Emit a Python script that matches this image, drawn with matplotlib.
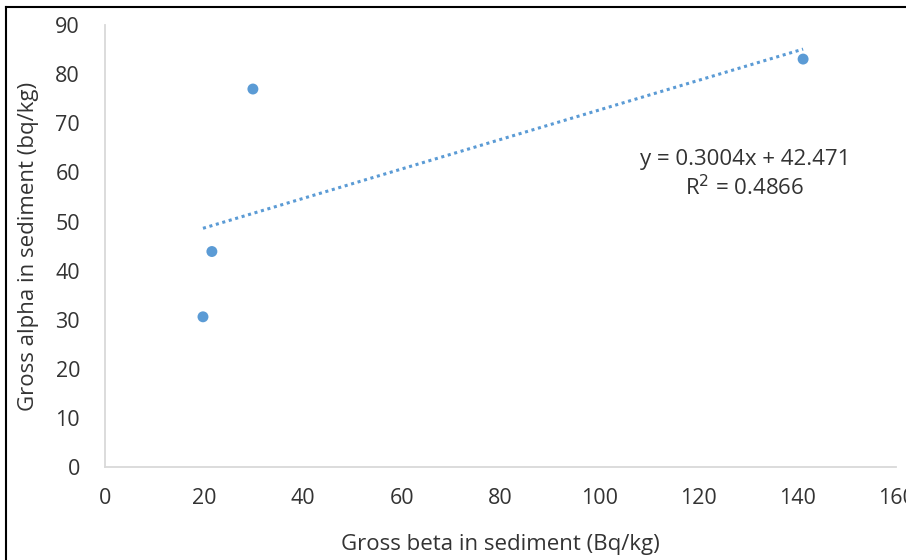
import numpy as np
import matplotlib
matplotlib.use('Agg')
import matplotlib.pyplot as plt
from matplotlib.lines import Line2D

# Data
gross_beta = [19.8, 21.6, 29.9, 141.2]
gross_alpha = [30.6, 43.9, 77.0, 83.1]
x_ticks = [0, 20, 40, 60, 80, 100, 120, 140, 160]
y_ticks = [0, 10, 20, 30, 40, 50, 60, 70, 80, 90]
eq_text = 'y = 0.3004x + 42.471\nR$^2$ = 0.4866'

plt.rcParams['font.family'] = ['Open Sans', 'DejaVu Sans']

blue = '#5b9bd5'
grey = '#d9d9d9'
text_col = '#333333'

fig = plt.figure(figsize=(9.06, 5.6), dpi=100)
ax = fig.add_axes([0.116, 0.166, 0.873, 0.789])

ax.scatter(gross_beta, gross_alpha, s=62, color=blue, zorder=3,
           edgecolors='none')

# Linear trendline
coef = np.polyfit(gross_beta, gross_alpha, 1)
xl = np.array([min(gross_beta), max(gross_beta)])
ax.plot(xl, np.polyval(coef, xl), linestyle=(0, (1, 1.2)), color=blue,
        linewidth=2.2)

ax.set_xlim(0, 160)
ax.set_ylim(0, 90)
ax.set_xticks(x_ticks)
ax.set_yticks(y_ticks)
ax.tick_params(length=0, labelsize=15.5, colors=text_col)
ax.tick_params(axis='x', pad=15)
ax.tick_params(axis='y', pad=18)
for s in ['top', 'right']:
    ax.spines[s].set_visible(False)
for s in ['left', 'bottom']:
    ax.spines[s].set_color(grey)
    ax.spines[s].set_linewidth(1.3)

ax.set_xlabel('Gross beta in sediment (Bq/kg)', fontsize=16,
              color=text_col, labelpad=18)
ax.set_ylabel('Gross alpha in sediment (bq/kg)', fontsize=16,
              color=text_col, labelpad=12)

ax.text(129.4, 59.6, eq_text, fontsize=16, color=text_col, ha='center',
        va='center', linespacing=1.25)

# frame lines (top and left)
fig.add_artist(Line2D([0.0066, 1.0], [0.9875, 0.9875], color='black',
                      linewidth=1.5, transform=fig.transFigure))
fig.add_artist(Line2D([0.0066, 0.0066], [0.0, 0.9875], color='black',
                      linewidth=1.5, transform=fig.transFigure))

fig.savefig('out.png', dpi=100)
